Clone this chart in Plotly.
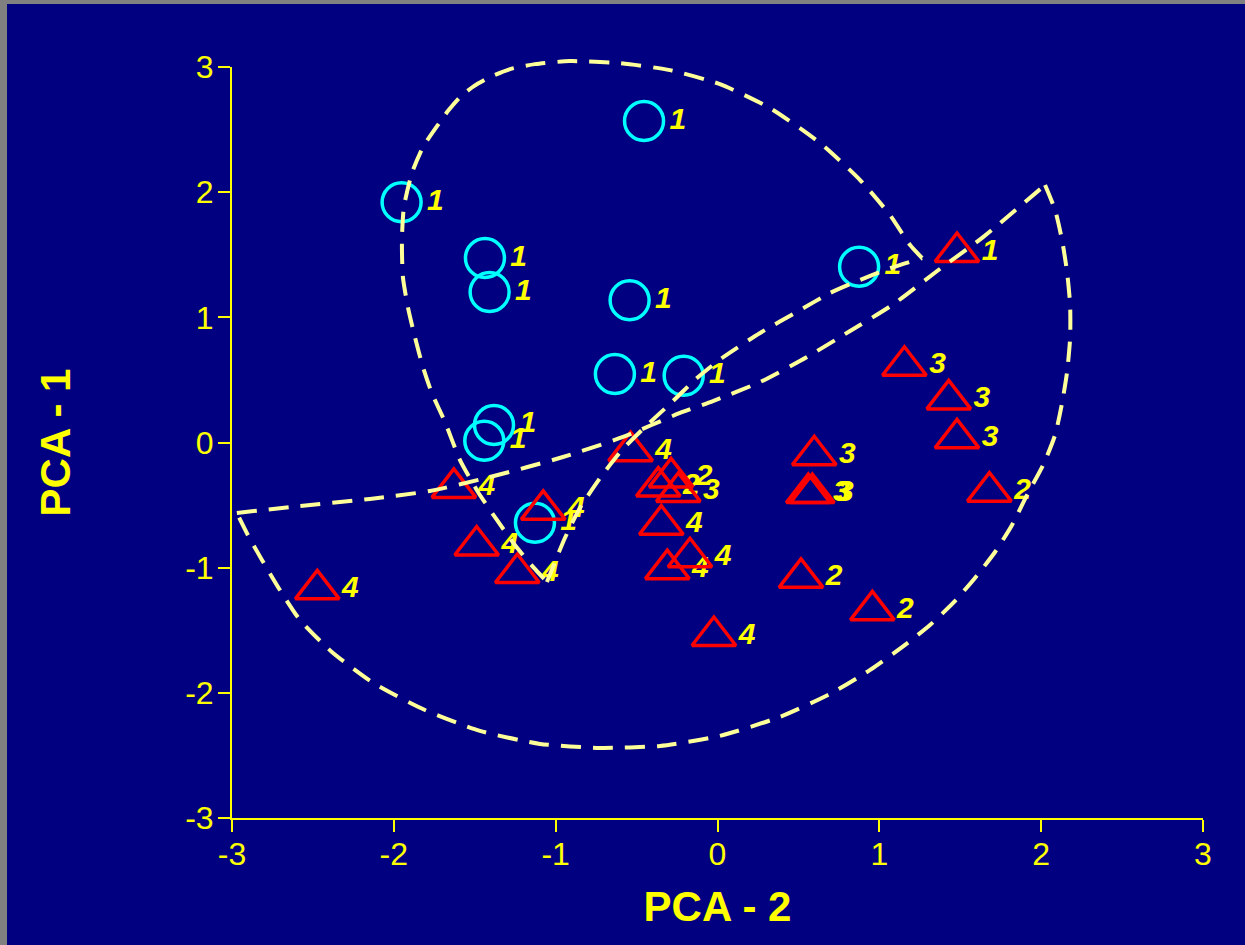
import plotly.graph_objects as go

# ---- Group 1 samples (circles) ----
grp1_x = [-0.454, -1.952, -1.437, -1.408, -0.543, 0.875, -0.634, -0.209, -1.381, -1.441, -1.128]
grp1_y = [2.568, 1.919, 1.474, 1.202, 1.136, 1.404, 0.547, 0.534, 0.140, 0.014, -0.641]
grp1_lab = ["1"] * len(grp1_x)

# ---- Other samples (triangles) with their group labels ----
tri_x = [1.480, 1.155, 1.429, 1.480, 0.598, 0.561, 0.586, 1.680, 0.516, 0.957,
         -0.537, -0.287, -0.366, -0.242, -0.347, -0.310, -0.170, -0.022,
         -1.629, -1.077, -1.488, -1.237, -2.473]
tri_y = [1.522, 0.613, 0.344, 0.033, -0.102, -0.404, -0.404, -0.393, -1.081, -1.341,
         -0.069, -0.279, -0.352, -0.395, -0.657, -1.012, -0.917, -1.546,
         -0.363, -0.538, -0.823, -1.043, -1.173]
tri_lab = ["1", "3", "3", "3", "3", "3", "3", "2", "2", "2",
           "4", "2", "2", "3", "4", "4", "4", "4",
           "4", "4", "4", "4", "4"]

# ---- Enclosure A (around group 1): outer arc and inner edge ----
encA_arc_x = [1.264, 1.190, 1.066, 0.881, 0.634, 0.324, 0.015, -0.294, -0.603, -0.912,
              -1.128, -1.282, -1.406, -1.505, -1.591, -1.666, -1.715, -1.820, -1.888,
              -1.938, -1.950, -1.944, -1.913, -1.870, -1.820, -1.765, -1.684, -1.591,
              -1.480, -1.363, -1.252, -1.140, -1.054]
encA_arc_y = [1.474, 1.577, 1.817, 2.097, 2.392, 2.672, 2.863, 2.975, 3.031, 3.047,
              3.023, 2.983, 2.919, 2.847, 2.760, 2.648, 2.560, 2.360, 2.153,
              1.881, 1.617, 1.322, 1.082, 0.843, 0.603, 0.395, 0.164, -0.140,
              -0.395, -0.619, -0.819, -0.994, -1.114]
encA_edge_x = [-1.054, -1.004, -0.943, -0.850, -0.726, -0.590, -0.448, -0.294, -0.127,
               0.028, 0.263, 0.510, 0.695, 0.850, 1.035, 1.264]
encA_edge_y = [-1.114, -0.954, -0.763, -0.523, -0.284, -0.060, 0.124, 0.308, 0.515,
               0.675, 0.875, 1.058, 1.194, 1.282, 1.378, 1.474]

# ---- Enclosure B (around groups 2-4): inner edge and outer arc ----
encB_edge_x = [-2.970, -2.580, -2.148, -1.777, -1.406, -0.955, -0.584, -0.232, -0.028,
               0.263, 0.553, 0.819, 1.079, 1.357, 1.641, 2.024]
encB_edge_y = [-0.563, -0.507, -0.451, -0.387, -0.276, -0.116, 0.044, 0.236, 0.331,
               0.483, 0.683, 0.891, 1.098, 1.370, 1.641, 2.057]
encB_arc_x = [2.024, 2.086, 2.129, 2.160, 2.179, 2.179, 2.160, 2.129, 2.086, 2.012,
              1.913, 1.820, 1.715, 1.591, 1.456, 1.313, 1.159, 0.943, 0.695, 0.386,
              0.015, -0.355, -0.726, -1.097, -1.468, -1.808, -2.117, -2.383, -2.580,
              -2.704, -2.815, -2.902, -2.970]
encB_arc_y = [2.057, 1.857, 1.617, 1.362, 1.098, 0.835, 0.563, 0.315, 0.060, -0.180,
              -0.419, -0.659, -0.875, -1.082, -1.282, -1.458, -1.617, -1.817, -2.009, -2.192,
              -2.344, -2.424, -2.440, -2.408, -2.304, -2.137, -1.929, -1.673, -1.418,
              -1.178, -0.938, -0.739, -0.563]

# ---- Axis ticks ----
tick_vals = [-3, -2, -1, 0, 1, 2, 3]
tick_text = ["-3", "-2", "-1", "0", "1", "2", "3"]

NAVY = "#000080"
YELLOW = "#FFFF00"
DASH_YELLOW = "#FFFF99"
FONT = "Arial, Liberation Sans, sans-serif"

CIRCLE_SIZE = 39
TRI_SIZE = 38

W, H = 1245, 945
M_L, M_R, M_T, M_B = 232, 42, 40, 127
AXIS_TOP_PX = 67                      # pixel row where the visible y axis ends (value 3)
plot_h = H - M_T - M_B
y_dom_top = (H - M_B - AXIS_TOP_PX) / plot_h
# free-drawing y axis spanning the whole plot height, same scale as the visible one
y2_top = -3 + 6 / y_dom_top

label_font = dict(family=FONT, size=30, color=YELLOW, weight="bold", style="italic")
hidden_marker = dict(color="rgba(0,0,0,0)", line=dict(width=0))

fig = go.Figure()

# group labels first so the symbols sit on top of them
fig.add_trace(go.Scatter(
    x=grp1_x, y=grp1_y, text=grp1_lab, mode="markers+text",
    marker=dict(size=CIRCLE_SIZE, symbol="circle", **hidden_marker),
    textposition="middle right", textfont=label_font, cliponaxis=False))
fig.add_trace(go.Scatter(
    x=tri_x, y=tri_y, text=tri_lab, mode="markers+text",
    marker=dict(size=TRI_SIZE, symbol="triangle-up", **hidden_marker),
    textposition="middle right", textfont=label_font, cliponaxis=False))

# symbols
fig.add_trace(go.Scatter(
    x=grp1_x, y=grp1_y, mode="markers",
    marker=dict(size=CIRCLE_SIZE, symbol="circle-open", color="#00FFFF",
                line=dict(width=3.5, color="#00FFFF")), cliponaxis=False))
fig.add_trace(go.Scatter(
    x=tri_x, y=tri_y, mode="markers",
    marker=dict(size=TRI_SIZE, symbol="triangle-up-open", color="#FF0000",
                line=dict(width=3.5, color="#FF0000")), cliponaxis=False))

# dashed enclosures (on the taller free axis so they can pass above y = 3)
for ex, ey in [(encA_arc_x, encA_arc_y), (encA_edge_x, encA_edge_y),
               (encB_edge_x, encB_edge_y), (encB_arc_x, encB_arc_y)]:
    fig.add_trace(go.Scatter(
        x=ex, y=ey, mode="lines", yaxis="y2",
        line=dict(color=DASH_YELLOW, width=4, dash="20px,12px", shape="spline", smoothing=0.6)))

axis_common = dict(
    range=[-3, 3], tickvals=tick_vals, ticktext=tick_text,
    ticks="outside", ticklen=12, tickwidth=2, tickcolor=YELLOW,
    showline=True, linecolor=YELLOW, linewidth=2,
    showgrid=False, zeroline=False,
    tickfont=dict(family=FONT, size=32, color=YELLOW),
)

fig.update_layout(
    width=W, height=H,
    margin=dict(l=M_L, r=M_R, t=M_T, b=M_B),
    paper_bgcolor="#808080",
    plot_bgcolor="rgba(0,0,0,0)",
    showlegend=False,
    xaxis=dict(**axis_common, ticklabelstandoff=-5,
               title=dict(text="PCA - 2", standoff=20,
                          font=dict(family=FONT, size=42, color=YELLOW, weight="bold"))),
    yaxis=dict(**axis_common, domain=[0, y_dom_top], ticklabelstandoff=-2,
               title=dict(text="PCA - 1", standoff=101,
                          font=dict(family=FONT, size=42, color=YELLOW, weight="bold"))),
    yaxis2=dict(domain=[0, 1], range=[-3, y2_top], anchor="x", visible=False,
                showgrid=False, zeroline=False),
    # navy canvas inside a thin grey frame on the left and top
    shapes=[dict(type="rect", xref="paper", yref="paper",
                 x0=-(M_L - 7) / (W - M_L - M_R), x1=1.1,
                 y0=-0.3, y1=(H - M_B - 4) / plot_h,
                 fillcolor=NAVY, line=dict(width=0), layer="below")],
)

fig.write_html("out.html")
